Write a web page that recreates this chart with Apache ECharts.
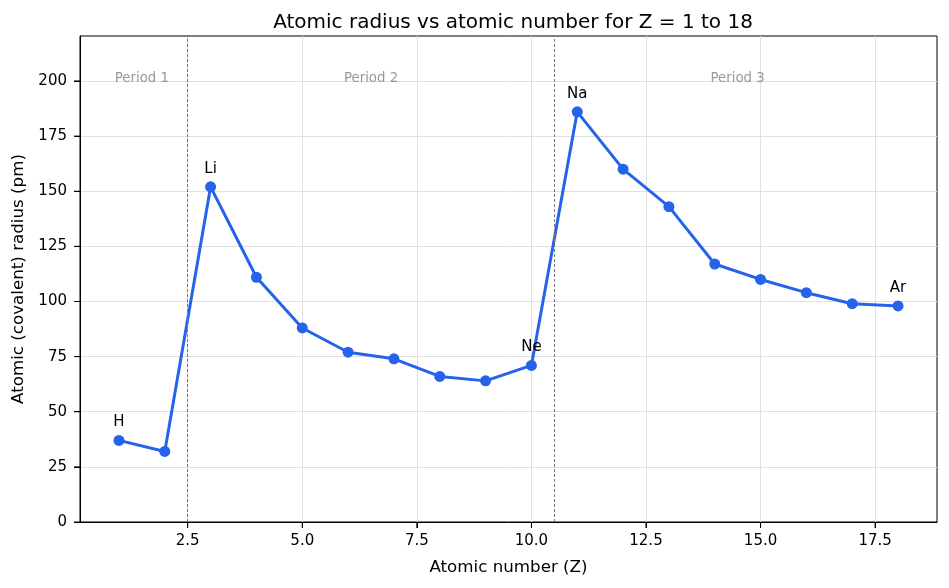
<!DOCTYPE html>
<html>
<head>
<meta charset="utf-8">
<style>
  html, body { margin: 0; padding: 0; background: #fff; }
  #chart { width: 949px; height: 588px; }
</style>
<script src="https://cdn.jsdelivr.net/npm/echarts@6/dist/echarts.min.js"></script>
</head>
<body>
<div id="chart"></div>
<script>
  var atomicNumbers = [1, 2, 3, 4, 5, 6, 7, 8, 9, 10, 11, 12, 13, 14, 15, 16, 17, 18];
  var symbols = ['H', 'He', 'Li', 'Be', 'B', 'C', 'N', 'O', 'F', 'Ne', 'Na', 'Mg', 'Al', 'Si', 'P', 'S', 'Cl', 'Ar'];
  var radii = [37, 32, 152, 111, 88, 77, 74, 66, 64, 71, 186, 160, 143, 117, 110, 104, 99, 98];
  var labelled = ['H', 'Li', 'Ne', 'Na', 'Ar'];
  var periodBounds = [2.5, 10.5];
  var periodNames = ['Period 1', 'Period 2', 'Period 3'];
  var periodX = [1.5, 6.5, 14.5];
  var periodY = 201;
  var xTicks = [2.5, 5.0, 7.5, 10.0, 12.5, 15.0, 17.5];
  var yTicks = [0, 25, 50, 75, 100, 125, 150, 175, 200];

  var xMin = 0.15, xMax = 18.85, yMin = 0, yMax = 220.4;
  var font = 'DejaVu Sans';
  var chart = echarts.init(document.getElementById('chart'));

  var pts = [];
  for (var i = 0; i < atomicNumbers.length; i++) {
    var item = { value: [atomicNumbers[i], radii[i]] };
    if (labelled.indexOf(symbols[i]) >= 0) {
      item.label = { show: true, formatter: symbols[i] };
    }
    pts.push(item);
  }
  var periodPts = [];
  for (var k = 0; k < periodNames.length; k++) {
    periodPts.push({ value: [periodX[k], periodY], name: periodNames[k] });
  }

  // outward tick marks, matplotlib style
  function tickSeries(vals, horizontal) {
    return {
      type: 'custom',
      silent: true,
      clip: false,
      data: vals.map(function (v) { return horizontal ? [v, yMin] : [xMin, v]; }),
      renderItem: function (params, api) {
        var p = api.coord([api.value(0), api.value(1)]);
        var shape = horizontal
          ? { x1: p[0], y1: p[1], x2: p[0], y2: p[1] + 6 }
          : { x1: p[0], y1: p[1], x2: p[0] - 6, y2: p[1] };
        return { type: 'line', shape: shape, style: { stroke: '#000', lineWidth: 1 } };
      },
      z: 5
    };
  }

  chart.setOption({
    backgroundColor: '#fff',
    animation: false,
    title: {
      text: 'Atomic radius vs atomic number for Z = 1 to 18',
      left: 508,
      textAlign: 'center',
      top: 8,
      textStyle: { fontFamily: font, fontWeight: 'normal', fontSize: 20, color: '#000' }
    },
    grid: {
      left: 80, right: 12, top: 36, bottom: 66,
      show: true, borderColor: '#000', borderWidth: 1, backgroundColor: 'transparent'
    },
    xAxis: {
      type: 'value',
      min: xMin, max: xMax,
      name: 'Atomic number (Z)',
      nameLocation: 'middle',
      nameGap: 37,
      nameTextStyle: { fontFamily: font, fontSize: 16.7, color: '#000' },
      axisLine: { show: true, onZero: false, lineStyle: { color: '#000', width: 1 } },
      axisTick: { show: true, inside: false, length: 6, customValues: xTicks, lineStyle: { color: '#000', width: 1 } },
      axisLabel: {
        customValues: xTicks, margin: 12,
        fontFamily: font, fontSize: 15, color: '#000',
        formatter: function (v) { return v.toFixed(1); }
      },
      splitLine: { show: true, lineStyle: { color: '#e0e0e0', width: 1 } }
    },
    yAxis: {
      type: 'value',
      min: yMin, max: yMax,
      name: 'Atomic (covalent) radius (pm)',
      nameLocation: 'middle',
      nameGap: 52,
      nameTextStyle: { fontFamily: font, fontSize: 16.7, color: '#000' },
      axisLine: { show: true, lineStyle: { color: '#000', width: 1 } },
      axisTick: { show: true, inside: false, length: 6, customValues: yTicks, lineStyle: { color: '#000', width: 1 } },
      axisLabel: { customValues: yTicks, margin: 13, fontFamily: font, fontSize: 15, color: '#000' },
      splitLine: { show: true, lineStyle: { color: '#e0e0e0', width: 1 } }
    },
    series: [
      {
        type: 'line',
        data: pts,
        symbol: 'circle',
        symbolSize: 11,
        lineStyle: { color: '#2563eb', width: 3 },
        itemStyle: { color: '#2563eb' },
        label: {
          position: 'top', distance: 5,
          fontFamily: font, fontSize: 15, color: '#000'
        },
        markLine: {
          silent: true,
          symbol: ['none', 'none'],
          label: { show: false },
          lineStyle: { color: '#777', type: [3, 2], width: 1 },
          data: periodBounds.map(function (b) { return { xAxis: b }; })
        },
        z: 3
      },
      {
        type: 'scatter',
        data: periodPts,
        symbolSize: 0,
        silent: true,
        label: {
          show: true, position: 'inside',
          formatter: function (p) { return p.name; },
          fontFamily: font, fontSize: 13.3, color: '#808080'
        }
      },
      tickSeries(xTicks, true),
      tickSeries(yTicks, false)
    ]
  });
</script>
</body>
</html>
